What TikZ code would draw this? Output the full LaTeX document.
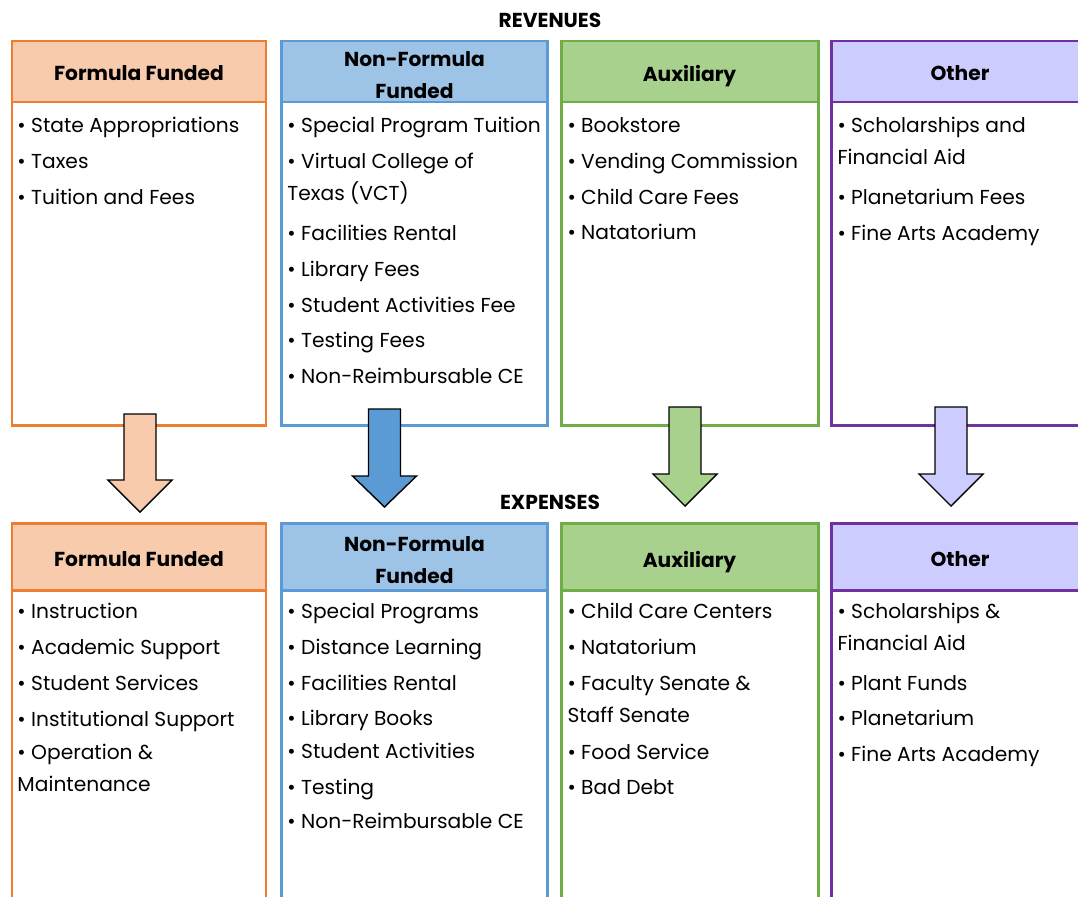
\documentclass[tikz,border=0pt]{standalone}
\usepackage{fontspec}
\setmainfont{Poppins}
\usepackage{tikz}
\usetikzlibrary{positioning}

\definecolor{ffline}{HTML}{ED7D31}
\definecolor{fffill}{HTML}{F8CBAD}
\definecolor{nfline}{HTML}{5B9BD5}
\definecolor{nffill}{HTML}{9DC3E6}
\definecolor{auxline}{HTML}{70AD47}
\definecolor{auxfill}{HTML}{A9D18E}
\definecolor{othline}{HTML}{7030A0}
\definecolor{othfill}{HTML}{CCCCFF}

% x, top, neck, tip, colour
\newcommand{\blockarrow}[5]{%
	\filldraw[arrowbody, fill=#5] (#1-16,#2) -- (#1+16,#2) -- (#1+16,#3) -- (#1+32,#3)
		-- (#1,#4) -- (#1-32,#3) -- (#1-16,#3) -- cycle;}

\begin{document}
\begin{tikzpicture}[x=0.02cm, y=-0.02cm, line width=1.7pt,
		title/.style={font=\bfseries\fontsize{11.5}{14}\selectfont},
		head/.style={font=\bfseries\fontsize{11.5}{18.1}\selectfont, align=center},
		list/.style={anchor=north west, inner sep=0pt, align=left, font=\fontsize{11.5}{18.1}\selectfont},
		arrowbody/.style={draw=black, line width=0.8pt, line join=miter}]
	\useasboundingbox (0,0) rectangle (1078,896);
	\clip (0,0) rectangle (1078,896);
	
	\def\tt{41};
	\def\ts{102};
	\def\tb{425};
	\def\bt{523};
	\def\bs{590};
	\def\bb{930};
	
	\node[title] (rev) at (550,20) {REVENUES};
	\node[title] (exp) at (550,502) {EXPENSES};
	
	% revenues
	\draw[ffline] (12,\tt) rectangle (266,\tb);
	\draw[ffline, fill=fffill] (12,\tt) rectangle (266,\ts);
	\draw[nfline] (281.5,\tt) rectangle (547.5,\tb);
	\draw[nfline, fill=nffill] (281.5,\tt) rectangle (547.5,\ts);
	\draw[auxline] (561,\tt) rectangle (818,\tb);
	\draw[auxline, fill=auxfill] (561,\tt) rectangle (818,\ts);
	\draw[othline] (831,\tt) rectangle (1092,\tb);
	\draw[othline, fill=othfill] (831,\tt) rectangle (1092,\ts);
	
	\node[head] (revFF) at (139,73) {Formula Funded};
	\node[head] (revNF) at (414.5,75) {Non-Formula\\Funded};
	\node[head] (revAux) at (689.5,76) {Auxiliary};
	\node[head] (revOth) at (960,73) {Other};
	
	\node[list] (revFFlist) at (16,116) {• State Appropriations\\[2.3pt]• Taxes\\[2.3pt]• Tuition and Fees};
	\node[list] (revNFlist) at (286,116) {• Special Program Tuition\\[2.3pt]• Virtual College of\\Texas (VCT)\\[4.6pt]• Facilities Rental\\[2.3pt]• Library Fees\\[2.3pt]• Student Activities Fee\\[2.3pt]• Testing Fees\\[2.3pt]• Non-Reimbursable CE};
	\node[list] (revAuxlist) at (566,116) {• Bookstore\\[2.3pt]• Vending Commission\\[2.3pt]• Child Care Fees\\[2.3pt]• Natatorium};
	\node[list] (revOthlist) at (836,116) {• Scholarships and\\Financial Aid\\[4.6pt]• Planetarium Fees\\[2.3pt]• Fine Arts Academy};
	
	% expenses
	\draw[ffline] (12,\bt) rectangle (266,\bb);
	\draw[ffline, fill=fffill] (12,\bt) rectangle (266,\bs);
	\draw[nfline] (281.5,\bt) rectangle (547.5,\bb);
	\draw[nfline, fill=nffill] (281.5,\bt) rectangle (547.5,\bs);
	\draw[auxline] (561,\bt) rectangle (818,\bb);
	\draw[auxline, fill=auxfill] (561,\bt) rectangle (818,\bs);
	\draw[othline] (831,\bt) rectangle (1092,\bb);
	\draw[othline, fill=othfill] (831,\bt) rectangle (1092,\bs);
	
	\node[head] (expFF) at (139,559) {Formula Funded};
	\node[head] (expNF) at (414.5,560) {Non-Formula\\Funded};
	\node[head] (expAux) at (689.5,562) {Auxiliary};
	\node[head] (expOth) at (960,559) {Other};
	
	\node[list] (expFFlist) at (16,602) {• Instruction\\[2.3pt]• Academic Support\\[2.3pt]• Student Services\\[2.3pt]• Institutional Support\\[1pt]• Operation \&\\Maintenance};
	\node[list] (expNFlist) at (286,602) {• Special Programs\\[2.3pt]• Distance Learning\\[2.3pt]• Facilities Rental\\[1.5pt]• Library Books\\[1pt]• Student Activities\\[2.3pt]• Testing\\[1.5pt]• Non-Reimbursable CE};
	\node[list] (expAuxlist) at (566,602) {• Child Care Centers\\[2.3pt]• Natatorium\\[2.3pt]• Faculty Senate \&\\Staff Senate\\[2.8pt]• Food Service\\[2.3pt]• Bad Debt};
	\node[list] (expOthlist) at (836,602) {• Scholarships \&\\Financial Aid\\[4.3pt]• Plant Funds\\[2.3pt]• Planetarium\\[2.3pt]• Fine Arts Academy};
	
	\blockarrow{140}{414}{480}{512}{fffill}
	\blockarrow{384.5}{409}{476}{507}{nfline}
	\blockarrow{685}{407}{474}{506}{auxfill}
	\blockarrow{951}{407}{474}{506}{othfill}
\end{tikzpicture}
\end{document}
